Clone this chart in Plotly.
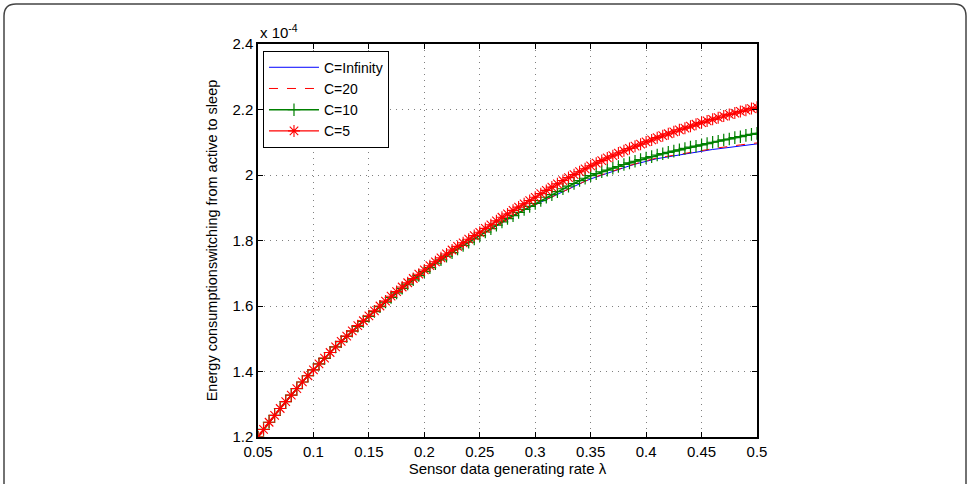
import plotly.graph_objects as go

# x: sensor data generating rate lambda (step 0.005)
x_vals = [round(0.05 + 0.005 * i, 3) for i in range(91)]

# y values are in units of 1e-4
c_inf = [1.200,1.223,1.245,1.266,1.287,1.308,1.328,1.348,1.368,1.387,
         1.405,1.423,1.440,1.458,1.475,1.491,1.507,1.523,1.538,1.553,
         1.568,1.583,1.598,1.612,1.626,1.640,1.654,1.667,1.680,1.693,
         1.705,1.717,1.729,1.741,1.752,1.763,1.774,1.785,1.795,1.805,
         1.815,1.825,1.836,1.846,1.856,1.865,1.875,1.884,1.893,1.901,
         1.910,1.919,1.927,1.935,1.943,1.951,1.959,1.966,1.974,1.981,
         1.988,1.994,2.000,2.006,2.011,2.017,2.022,2.028,2.033,2.038,
         2.043,2.046,2.050,2.053,2.056,2.059,2.062,2.065,2.068,2.070,
         2.073,2.075,2.078,2.080,2.082,2.085,2.087,2.089,2.091,2.093,
         2.095]

c_20 = [1.200,1.223,1.245,1.266,1.287,1.308,1.328,1.348,1.368,1.387,
        1.405,1.423,1.440,1.458,1.475,1.491,1.507,1.523,1.538,1.553,
        1.568,1.583,1.598,1.612,1.626,1.640,1.654,1.667,1.680,1.693,
        1.705,1.717,1.729,1.741,1.752,1.763,1.774,1.785,1.795,1.805,
        1.815,1.825,1.836,1.846,1.856,1.865,1.875,1.884,1.893,1.901,
        1.910,1.919,1.927,1.935,1.943,1.951,1.959,1.966,1.974,1.981,
        1.989,1.995,2.001,2.007,2.012,2.018,2.023,2.029,2.034,2.039,
        2.045,2.048,2.052,2.055,2.058,2.061,2.064,2.067,2.070,2.072,
        2.076,2.078,2.081,2.083,2.085,2.088,2.090,2.092,2.094,2.096,
        2.098]

c_10 = [1.200,1.223,1.245,1.266,1.287,1.308,1.328,1.348,1.368,1.387,
        1.405,1.423,1.440,1.458,1.475,1.491,1.507,1.523,1.538,1.553,
        1.568,1.583,1.598,1.612,1.626,1.640,1.654,1.667,1.680,1.693,
        1.705,1.717,1.729,1.741,1.752,1.763,1.774,1.785,1.795,1.805,
        1.815,1.826,1.836,1.847,1.857,1.867,1.876,1.886,1.895,1.904,
        1.913,1.922,1.932,1.940,1.949,1.958,1.966,1.974,1.983,1.990,
        1.998,2.004,2.010,2.015,2.021,2.026,2.032,2.037,2.042,2.047,
        2.052,2.056,2.061,2.065,2.069,2.073,2.077,2.081,2.085,2.088,
        2.092,2.096,2.100,2.103,2.107,2.110,2.114,2.117,2.121,2.124,
        2.127]

c_5 = [1.200,1.223,1.245,1.266,1.287,1.308,1.328,1.348,1.368,1.387,
       1.405,1.423,1.441,1.458,1.475,1.492,1.508,1.524,1.540,1.555,
       1.570,1.585,1.600,1.615,1.630,1.644,1.658,1.671,1.684,1.697,
       1.710,1.723,1.735,1.747,1.759,1.771,1.782,1.793,1.804,1.815,
       1.825,1.837,1.848,1.860,1.871,1.881,1.892,1.902,1.912,1.922,
       1.932,1.943,1.953,1.963,1.973,1.983,1.992,2.001,2.010,2.019,
       2.028,2.036,2.044,2.052,2.059,2.067,2.074,2.081,2.088,2.094,
       2.101,2.107,2.114,2.120,2.126,2.132,2.138,2.143,2.149,2.155,
       2.160,2.165,2.170,2.175,2.180,2.185,2.189,2.194,2.198,2.203,
       2.207]

x_ticks = [0.05, 0.1, 0.15, 0.2, 0.25, 0.3, 0.35, 0.4, 0.45, 0.5]
x_tick_text = ["0.05", "0.1", "0.15", "0.2", "0.25", "0.3", "0.35", "0.4", "0.45", "0.5"]
y_ticks = [1.2, 1.4, 1.6, 1.8, 2.0, 2.2, 2.4]
y_tick_text = ["1.2", "1.4", "1.6", "1.8", "2", "2.2", "2.4"]

FONT = "Liberation Sans, Arial, Helvetica, sans-serif"

fig = go.Figure()
fig.add_trace(go.Scatter(x=x_vals, y=c_inf, mode="lines", name="C=Infinity",
                         line=dict(color="rgb(0,0,255)", width=1)))
fig.add_trace(go.Scatter(x=x_vals, y=c_20, mode="lines", name="C=20",
                         line=dict(color="rgb(255,0,0)", width=1, dash="dash")))
fig.add_trace(go.Scatter(x=x_vals, y=c_10, mode="lines+markers", name="C=10",
                         line=dict(color="rgb(0,128,0)", width=1.6),
                         marker=dict(symbol="cross-thin-open", size=9,
                                     line=dict(color="rgb(0,128,0)", width=1.2))))
fig.add_trace(go.Scatter(x=x_vals, y=c_5, mode="lines+markers", name="C=5",
                         line=dict(color="rgb(255,0,0)", width=1.2),
                         marker=dict(symbol="asterisk-open", size=10,
                                     line=dict(color="rgb(255,0,0)", width=1.1))))

axis_common = dict(
    showline=True, linecolor="black", linewidth=1.5, mirror="ticks",
    ticks="inside", ticklen=5, tickwidth=1, tickcolor="black",
    showgrid=True, gridcolor="rgba(0,0,0,0.5)", griddash="1px,5px", gridwidth=1,
    zeroline=False, tickfont=dict(family=FONT, size=15, color="black"),
)

fig.update_xaxes(range=[0.05, 0.5], tickvals=x_ticks, ticktext=x_tick_text,
                 title=dict(text="Sensor data generating rate λ",
                            font=dict(family=FONT, size=15, color="black"), standoff=4),
                 **axis_common)
fig.update_yaxes(range=[1.2, 2.4], tickvals=y_ticks, ticktext=y_tick_text,
                 title=dict(text="Energy consumptionswitching from active to sleep",
                            font=dict(family=FONT, size=14.5, color="black"), standoff=11),
                 **axis_common)

# outer rounded frame (figure box)
x0, x1 = (4 - 258) / 499, (966 - 258) / 499
yt, yb = 1 + (44 - 4) / 393, -0.3
rx, ry = 12 / 499, 12 / 393
fig.add_shape(type="path", xref="paper", yref="paper",
              path=(f"M {x0},{yb} L {x0},{yt-ry} Q {x0},{yt} {x0+rx},{yt} "
                    f"L {x1-rx},{yt} Q {x1},{yt} {x1},{yt-ry} L {x1},{yb}"),
              line=dict(color="#444444", width=1.5))

fig.add_annotation(text="x 10<sup>-4</sup>", xref="paper", yref="paper",
                   x=0.0, y=1.0, xanchor="left", yanchor="bottom", showarrow=False,
                   font=dict(family=FONT, size=15, color="black"), xshift=0, yshift=1)

fig.update_layout(
    width=973, height=484,
    margin=dict(l=258, r=216, t=44, b=47, autoexpand=False),
    paper_bgcolor="white", plot_bgcolor="white",
    showlegend=True,
    legend=dict(x=0.01, y=0.983, xanchor="left", yanchor="top",
                bgcolor="white", bordercolor="black", borderwidth=1,
                font=dict(family=FONT, size=14, color="black"),
                tracegroupgap=0, itemwidth=50),
)

fig.write_html("out.html")
